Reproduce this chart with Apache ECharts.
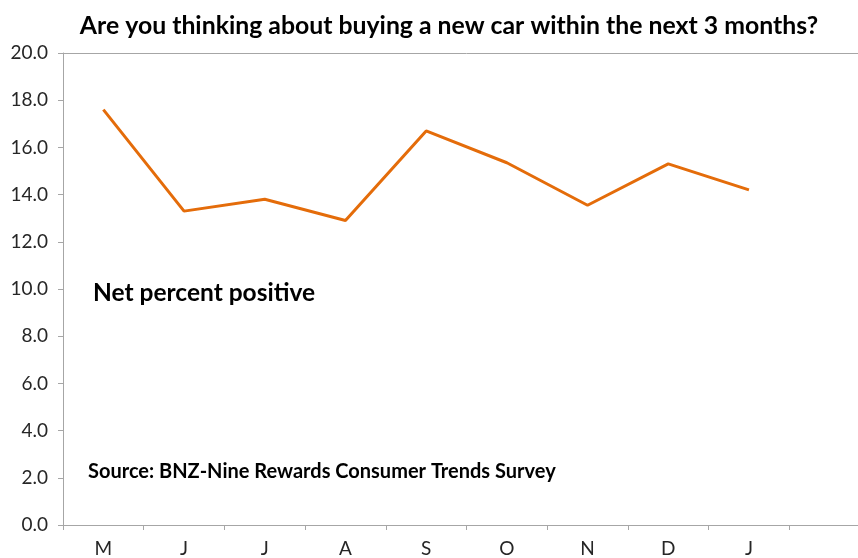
<!DOCTYPE html>
<html>
<head>
<meta charset="utf-8">
<script src="https://cdn.jsdelivr.net/npm/echarts@6/dist/echarts.min.js"></script>
<style>
  html, body { margin: 0; padding: 0; background: #fff; overflow: hidden; }
  /* chart is a bit wider than the window so the last empty slot gets cut off, as in the original */
  #chart { width: 870px; height: 558px; }
</style>
</head>
<body>
<div id="chart"></div>
<script>
  // months, last slot left empty like the original sheet
  var months = ['M', 'J', 'J', 'A', 'S', 'O', 'N', 'D', 'J', '']
  var netPositive = [17.6, 13.3, 13.8, 12.9, 16.7, 15.35, 13.55, 15.3, 14.2, null]

  var font = 'Lato, "Open Sans", sans-serif'
  var chart = echarts.init(document.getElementById('chart'))

  chart.setOption({
    animation: false,
    title: [{
      text: 'Are you thinking about buying a new car within the next 3 months?',
      left: 444,
      top: 9,
      textAlign: 'center',
      textStyle: { fontFamily: font, fontWeight: 'bold', fontSize: 24.8, color: '#000' }
    }, {
      text: 'Net percent positive',
      left: 88,
      top: 276,
      textStyle: { fontFamily: font, fontWeight: 'bold', fontSize: 24.5, color: '#000' }
    }, {
      text: 'Source: BNZ-Nine Rewards Consumer Trends Survey',
      left: 83,
      top: 457,
      textStyle: { fontFamily: font, fontWeight: 'bold', fontSize: 20, color: '#000' }
    }],
    grid: {
      left: 63,
      right: 0,
      top: 53,
      bottom: 31
    },
    xAxis: {
      type: 'category',
      data: months,
      boundaryGap: true,
      axisLine: { lineStyle: { color: '#a6a6a6', width: 1 } },
      axisTick: { show: true, length: 5, lineStyle: { color: '#a6a6a6' } },
      axisLabel: { color: '#262626', fontFamily: font, fontSize: 19, margin: 14 },
      splitLine: { show: false }
    },
    yAxis: {
      type: 'value',
      min: 0,
      max: 20,
      interval: 2,
      axisLine: { show: true, lineStyle: { color: '#a6a6a6', width: 1 } },
      axisTick: { show: true, length: 5, lineStyle: { color: '#a6a6a6' } },
      axisLabel: {
        color: '#262626', fontFamily: font, fontSize: 19, margin: 15,
        formatter: function (v) { return v.toFixed(1) }
      },
      splitLine: { show: false }
    },
    series: [{
      type: 'line',
      data: netPositive,
      symbol: 'none',
      lineStyle: { color: '#e46c0a', width: 3 },
      markLine: {
        silent: true,
        symbol: 'none',
        label: { show: false },
        lineStyle: { color: '#a6a6a6', width: 1, type: 'solid' },
        data: [{ yAxis: 20 }]
      }
    }]
  })
</script>
</body>
</html>
